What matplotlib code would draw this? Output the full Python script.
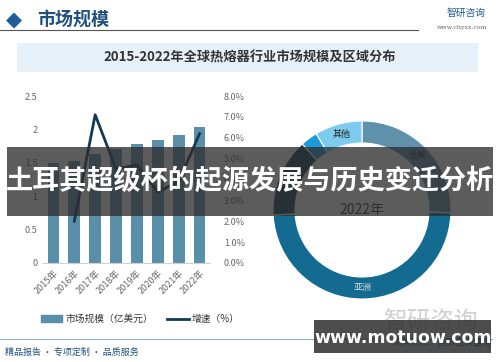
import numpy as np
import matplotlib
matplotlib.use("Agg")
import matplotlib.pyplot as plt
from matplotlib.patches import Rectangle, Patch
from matplotlib.lines import Line2D

plt.rcParams['font.family'] = ['Noto Sans CJK SC', 'DejaVu Sans']

# data
years = ['2015年', '2016年', '2017年', '2018年', '2019年', '2020年', '2021年', '2022年']
market_size = [1.50, 1.53, 1.63, 1.70, 1.78, 1.84, 1.91, 2.03]   # 亿美元
growth = [np.nan, 2.0, 7.1, 4.5, 4.7, 3.4, 3.9, 6.2]              # %

regions = ['北美', '亚洲', '欧洲', '拉美', '其他']
region_share = [25.5, 48.6, 14.2, 3.1, 8.6]
region_labels = ['北美', '亚洲', '欧洲', '', '其他']

BAR_COLOR = '#5a8fa9'
LINE_COLOR = '#133a55'
PIE_COLORS = ['#5f91ab', '#136b91', '#0c3c5a', '#1a9ad6', '#7dcbef']
W, H = 500, 362


def fx(px):
    return px / W


def fy(py):
    return 1 - py / H


fig = plt.figure(figsize=(5, 3.62), dpi=100)
fig.patch.set_facecolor('white')

# header
fig.text(fx(14), fy(20), '◆', color='#1f5d99', fontsize=15, ha='center', va='center', family=['DejaVu Sans'])
fig.text(fx(37), fy(20), '市场规模', color='#1f4f7d', fontsize=13, fontweight='bold', ha='left', va='center')
fig.add_artist(Line2D([0, fx(418)], [fy(30), fy(30)], color='#555555', lw=0.8))
fig.text(fx(486), fy(13), '智研咨询', color='#1f5d99', fontsize=7, ha='right', va='center')
fig.text(fx(487), fy(28), 'www.chyxx.com', color='#666666', fontsize=4.5, ha='right', va='center',
         family=['DejaVu Serif'])

# title box
fig.add_artist(Rectangle((fx(17), fy(72)), fx(461), 29 / H, transform=fig.transFigure,
                         facecolor='#e5f0f8', edgecolor='none'))
fig.text(0.5, fy(58), '2015-2022年全球热熔器行业市场规模及区域分布', color='#333333',
         fontsize=9.5, fontweight='bold', ha='center', va='center')

# bar + line chart
ax = fig.add_axes([fx(43), fy(263), 167 / W, 167 / H])
x = np.arange(len(years))
ax.bar(x, market_size, width=0.56, color=BAR_COLOR, zorder=2)
ax.set_xlim(-0.5, len(years) - 0.5)
ax.set_ylim(0, 2.5)
ax.set_yticks([0, 0.5, 1, 1.5, 2, 2.5])
ax.set_yticklabels(['0', '0.5', '1', '1.5', '2', '2.5'])
ax.set_xticks(x)
ax.set_xticklabels(years, rotation=45, ha='right', rotation_mode='anchor')
for s in ['top', 'right', 'left']:
    ax.spines[s].set_visible(False)
ax.spines['bottom'].set_color('#d0d0d0')
ax.tick_params(length=0, labelsize=6.5, colors='#666666', pad=4)

ax2 = ax.twinx()
ax2.plot(x, growth, color=LINE_COLOR, lw=2)
ax2.set_ylim(0, 8)
ax2.set_yticks(range(0, 9))
ax2.set_yticklabels([f'{v:.1f}%' for v in range(0, 9)])
for s in ax2.spines.values():
    s.set_visible(False)
ax2.tick_params(length=0, labelsize=6.5, colors='#666666', pad=10)

handles = [Patch(color=BAR_COLOR), Line2D([0], [0], color=LINE_COLOR, lw=2)]
fig.legend(handles, ['市场规模（亿美元）', '增速（%）'], loc='center left',
           bbox_to_anchor=(fx(32), fy(319)), ncol=2, frameon=False, fontsize=7,
           handlelength=2.2, handleheight=0.6, columnspacing=1.5, handletextpad=0.3,
           labelcolor='#333333')

# donut chart
pax = fig.add_axes([fx(362 - 90), fy(210 + 90), 180 / W, 180 / H])
radius = 89 / 90
ring = 22 / 90
wedges, _ = pax.pie(region_share, colors=PIE_COLORS, startangle=90, counterclock=False,
                    radius=radius, wedgeprops=dict(width=ring, edgecolor='white', linewidth=0.8))
pax.set_xlim(-1, 1)
pax.set_ylim(-1, 1)
pax.set_aspect('equal')
r_mid = radius - ring / 2
for w, lab in zip(wedges, region_labels):
    if not lab:
        continue
    ang = np.deg2rad((w.theta1 + w.theta2) / 2)
    col = '#222222' if lab in ('北美', '其他') else '#dddddd'
    pax.text(r_mid * np.cos(ang), r_mid * np.sin(ang), lab, fontsize=6.5, color=col,
             ha='center', va='center')
pax.text(0, 0, '2022年', fontsize=10, color='#333333', ha='center', va='center')

# footer
fig.text(fx(430), fy(322), '智研咨询', color='#cfcfcf', fontsize=17, ha='center', va='center')
fig.add_artist(Line2D([0, fx(492)], [fy(339), fy(339)], color='#8fb3c8', lw=0.8))
fig.text(fx(5), fy(352), '精品报告 · 专项定制 · 品质服务', color='#1f4f7d', fontsize=6.5,
         ha='left', va='center')
fig.text(fx(492), fy(342), '资料来源：智研咨询整理', color='#1f4f7d', fontsize=6.5,
         ha='right', va='center')

# overlay banners
fig.add_artist(Rectangle((fx(7), fy(216)), fx(486), 69 / H, transform=fig.transFigure,
                         facecolor='#2e2e2e', alpha=0.78, edgecolor='none', zorder=10))
fig.text(fx(250), fy(181), '土耳其超级杯的起源发展与历史变迁分析', color='white', fontsize=19.5,
         fontweight='bold', ha='center', va='center', zorder=11)
fig.add_artist(Rectangle((fx(314), fy(353)), fx(177), 33 / H, transform=fig.transFigure,
                         facecolor='#2e2e2e', alpha=0.85, edgecolor='none', zorder=10))
fig.text(fx(403), fy(338), 'www.motuow.com', color='white', fontsize=12.5, fontweight='bold',
         ha='center', va='center', zorder=11, family=['DejaVu Sans'])

fig.savefig('out.png', dpi=100)
